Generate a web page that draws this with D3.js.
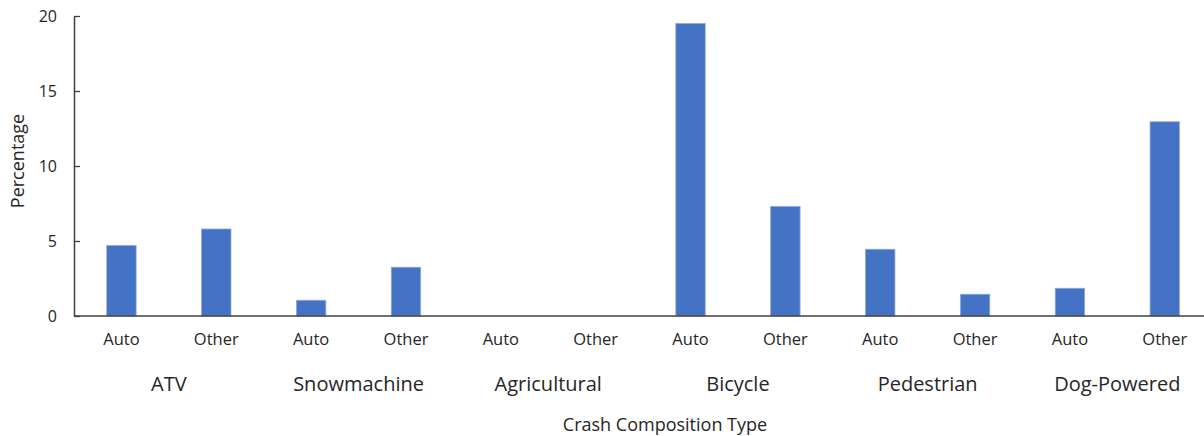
<!DOCTYPE html>
<html>
<head>
<meta charset="utf-8">
<script src="https://cdn.jsdelivr.net/npm/d3@7"></script>
<style>
  body { margin: 0; background: #fff; }
  text { font-family: "Open Sans", "Noto Sans", sans-serif; fill: #262626; }
</style>
</head>
<body>
<div id="chart"></div>
<script>
// Categories and values
const groups = ["ATV", "Snowmachine", "Agricultural", "Bicycle", "Pedestrian", "Dog-Powered"];
const subTypes = ["Auto", "Other"];
const autoValues = [4.7, 1.05, 0, 19.5, 4.45, 1.85];
const otherValues = [5.8, 3.25, 0, 7.3, 1.45, 12.95];
const yTicks = [0, 5, 10, 15, 20];

const width = 1204;
const height = 436;
const marginLeft = 74;
const marginTop = 16;
const bandStep = 94.85;
const plotBottom = 316;

// flatten into one row per bar
const rows = [];
groups.forEach((g, i) => {
  rows.push({ key: g + "|Auto", group: g, sub: "Auto", value: autoValues[i] });
  rows.push({ key: g + "|Other", group: g, sub: "Other", value: otherValues[i] });
});

const x = d3.scaleBand()
    .domain(rows.map(d => d.key))
    .range([marginLeft, marginLeft + bandStep * rows.length])
    .paddingInner(0.69)
    .paddingOuter(0.345);

const y = d3.scaleLinear()
    .domain([0, 20])
    .range([plotBottom, marginTop]);

const svg = d3.select("#chart").append("svg")
    .attr("width", width)
    .attr("height", height)
    .attr("viewBox", [0, 0, width, height]);

// Bars
svg.append("g")
  .selectAll("rect")
  .data(rows.filter(d => d.value > 0))
  .join("rect")
    .attr("x", d => x(d.key))
    .attr("y", d => y(d.value))
    .attr("width", x.bandwidth())
    .attr("height", d => y(0) - y(d.value))
    .attr("fill", "#4472c4")
    .attr("stroke", "#8faadc")
    .attr("stroke-width", 0.8);

// Y axis (ticks pointing inward)
svg.append("g")
    .attr("transform", `translate(${marginLeft},0)`)
    .call(d3.axisRight(y).tickValues(yTicks).tickSize(6).tickSizeOuter(0).tickFormat(d3.format("d")))
    .call(g => g.select(".domain").attr("stroke", "#404040").attr("stroke-width", 1.5))
    .call(g => g.selectAll(".tick line").attr("stroke", "#404040").attr("stroke-width", 1.3))
    .call(g => g.selectAll(".tick text")
        .attr("x", -17)
        .attr("text-anchor", "end")
        .attr("font-size", 16)
        .attr("fill", "#262626"));

// X axis baseline
svg.append("line")
    .attr("x1", marginLeft)
    .attr("x2", width)
    .attr("y1", y(0))
    .attr("y2", y(0))
    .attr("stroke", "#404040")
    .attr("stroke-width", 1.5);

// Sub-type labels
svg.append("g")
    .attr("font-size", 16.5)
    .attr("text-anchor", "middle")
  .selectAll("text")
  .data(rows)
  .join("text")
    .attr("x", d => x(d.key) + x.bandwidth() / 2)
    .attr("y", 345)
    .text(d => d.sub);

// Group labels
svg.append("g")
    .attr("font-size", 20)
    .attr("text-anchor", "middle")
  .selectAll("text")
  .data(groups)
  .join("text")
    .attr("x", g => (x(g + "|Auto") + x(g + "|Other") + x.bandwidth()) / 2)
    .attr("y", 391)
    .text(g => g);

// Axis titles
svg.append("text")
    .attr("x", 665)
    .attr("y", 431)
    .attr("text-anchor", "middle")
    .attr("font-size", 18)
    .text("Crash Composition Type");

svg.append("text")
    .attr("transform", `translate(24,161) rotate(-90)`)
    .attr("text-anchor", "middle")
    .attr("font-size", 18)
    .text("Percentage");
</script>
</body>
</html>
